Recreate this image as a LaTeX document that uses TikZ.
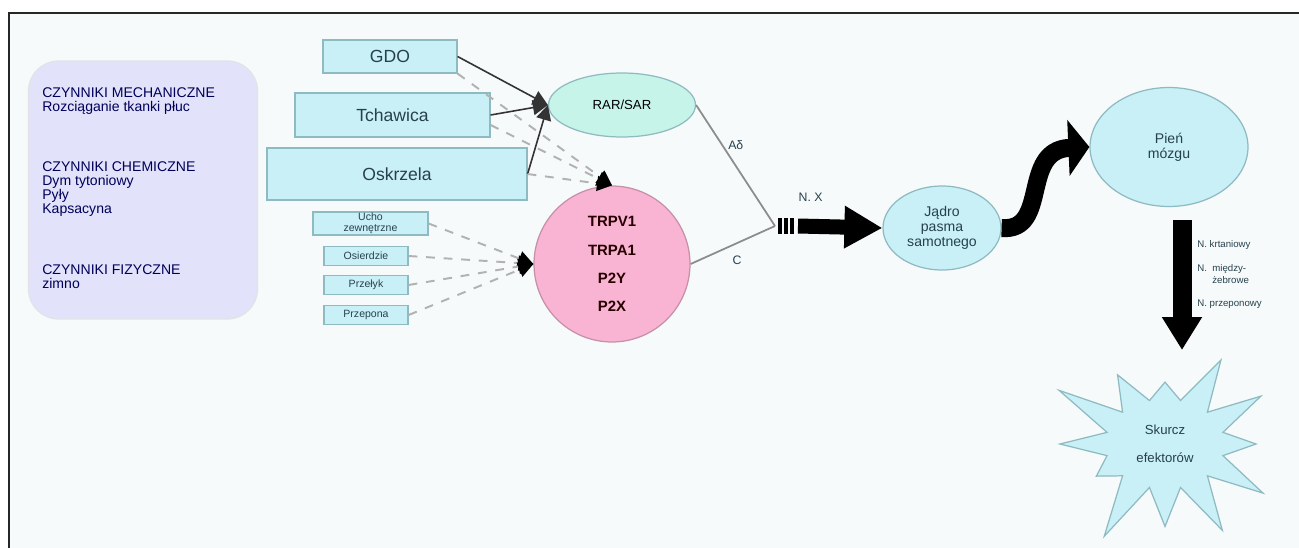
\documentclass[tikz,border=0pt]{standalone}
\usepackage{fontspec}
\setmainfont{Liberation Sans}
\usetikzlibrary{arrows.meta,shapes.geometric,shapes.symbols}
\definecolor{tlo}{HTML}{F6FAFA}
\definecolor{cyjan}{HTML}{C9F0F6}
\definecolor{mieta}{HTML}{C6F4E9}
\definecolor{roz}{HTML}{F8B4D2}
\definecolor{lawenda}{HTML}{E2E2FA}
\definecolor{ramka}{HTML}{8EBAC2}
\definecolor{tekst}{HTML}{27414C}
\begin{document}
\begin{tikzpicture}[x=0.02cm, y=-0.02cm,
	pole/.style={draw=ramka, fill=cyjan, line width=0.7pt, inner sep=0pt, text=tekst, font=\fontsize{10}{11}\selectfont},
	maly/.style={pole, font=\fontsize{6}{6.5}\selectfont, align=center},
	owal/.style={ellipse, draw=ramka, fill=cyjan, line width=0.7pt, inner sep=0pt, align=center, text=tekst},
	opis/.style={inner sep=0pt, text=tekst, font=\fontsize{7}{7}\selectfont},
	wejscie/.style={draw=black!80, line width=0.9pt, -{Triangle[length=0.3cm,width=0.3cm]}},
	kreski/.style={draw=black!30, line width=1.1pt, dash pattern=on 5pt off 5pt, -{Triangle[length=0.3cm,width=0.3cm,color=black]}},
	nerw/.style={draw=black!45, line width=1pt},
	gruba/.style={draw=black, line width=0.3cm, -{Triangle[length=0.76cm,width=0.8cm]}}]
	\useasboundingbox (0,0) rectangle (1299,548);
	% tlo i ramka
	\fill[tlo] (9,13) rectangle (1299,548);
	\draw[line width=1.2pt, black!85] (9,548) -- (9,13) -- (1299,13);

	% czynniki
	\node (czynniki) at (143,190) [draw=lawenda!70!black!30, fill=lawenda, line width=0.7pt, rounded corners=0.6cm, minimum width=4.58cm, minimum height=5.16cm] {};
	\node (mech) at (42,87) [anchor=north west, align=left, inner sep=0pt, text=black!65!blue, font=\fontsize{8}{8}\selectfont] {CZYNNIKI MECHANICZNE\\Rozciąganie tkanki płuc};
	\node (chem) at (42,161) [anchor=north west, align=left, inner sep=0pt, text=black!65!blue, font=\fontsize{8}{8}\selectfont] {CZYNNIKI CHEMICZNE\\Dym tytoniowy\\Pyły\\Kapsacyna};
	\node (fiz) at (42,264) [anchor=north west, align=left, inner sep=0pt, text=black!65!blue, font=\fontsize{8}{8}\selectfont] {CZYNNIKI FIZYCZNE\\zimno};

	% receptory
	\node (gdo) at (390,56.5) [pole, minimum width=2.68cm, minimum height=0.66cm] {GDO};
	\node (tchawica) at (392.5,115) [pole, minimum width=3.9cm, minimum height=0.88cm] {Tchawica};
	\node (oskrzela) at (397,174) [pole, minimum width=5.2cm, minimum height=1.04cm] {Oskrzela};
	\node (ucho) at (370.5,223.5) [maly, minimum width=2.3cm, minimum height=0.46cm] {Ucho\\zewnętrzne};
	\node (osierdzie) at (366,256) [maly, minimum width=1.68cm, minimum height=0.38cm] {Osierdzie};
	\node (przelyk) at (366,285) [maly, minimum width=1.68cm, minimum height=0.38cm] {Przełyk};
	\node (przepona) at (366,315) [maly, minimum width=1.68cm, minimum height=0.38cm] {Przepona};

	\node (rarsar) at (622,105) [owal, fill=mieta, minimum width=2.94cm, minimum height=1.28cm, font=\fontsize{7.5}{8}\selectfont, text=black] {RAR/SAR};
	\node (kanaly) at (612,264) [circle, draw=roz!80!black, fill=roz, line width=0.7pt, minimum size=3.12cm, inner sep=0pt, align=center, text=black!75!red!60!black, font=\bfseries\fontsize{8.5}{16}\selectfont] {TRPV1\\TRPA1\\P2Y\\P2X};

	\node (jadro) at (942,228) [owal, minimum width=2.36cm, minimum height=1.68cm, font=\fontsize{8}{8.5}\selectfont] {Jądro\\pasma\\samotnego};
	\node (pien) at (1169,147) [owal, minimum width=3.16cm, minimum height=2.38cm, font=\fontsize{8}{8.5}\selectfont] {Pień\\mózgu};
	\node (skurcz) at (1165,444) [starburst, starburst points=12, starburst point height=1.3cm, random starburst=23, draw=ramka, fill=cyjan, line width=0.7pt, minimum width=5.0cm, minimum height=4.4cm, inner sep=0pt, align=center, text=tekst, font=\fontsize{7.5}{16}\selectfont] {Skurcz\\efektorów};

	% wejscia
	\draw[wejscie] (gdo.east) -- (rarsar.west);
	\draw[wejscie] (tchawica.east) -- (rarsar.west);
	\draw[wejscie] (oskrzela.east) -- (rarsar.west);
	\draw[kreski] (gdo.south east) -- (kanaly.north);
	\draw[kreski] ([yshift=-0.2cm]tchawica.east) -- (kanaly.north);
	\draw[kreski] (oskrzela.east) -- (kanaly.north);
	\foreach \n in {ucho,osierdzie,przelyk,przepona}
		\draw[kreski] (\n.east) -- (kanaly.west);

	% wlokna
	\coordinate (junc) at (775,226);
	\draw[nerw] (rarsar.east) -- (junc) node[pos=0.33, right=3pt, opis] {Aδ};
	\draw[nerw] (kanaly.east) -- (junc) node[pos=0.55, below=7pt, opis] {C};
	\foreach \x in {778,784,790}
		\fill (\x,218) rectangle +(3.5,16);
	\coordinate (nx) at (798,226);
	\draw[gruba] (nx) -- (jadro.west) node[pos=0.15, above=0.35cm, opis] {N. X};

	% pien mozgu
	\draw[draw=black, line width=0.36cm, -{Triangle[length=0.42cm,width=1.1cm]}] (jadro.east) .. controls (1050,232) and (1020,150) .. (pien.west);
	\coordinate (dol) at (1182,220);
	\coordinate (grot) at (1182,350);
	\draw[draw=black, line width=0.38cm, -{Triangle[length=0.66cm,width=0.76cm]}] (dol) -- (grot);
	\node (krtan) at (1197,245) [anchor=west, opis, font=\fontsize{5.5}{6}\selectfont] {N. krtaniowy};
	\node (miedzy) at (1197,274) [anchor=west, opis, align=left, font=\fontsize{5.5}{6.5}\selectfont] {N.\ \ między-\\\hspace{0.3cm}żebrowe};
	\node (przep) at (1197,304) [anchor=west, opis, font=\fontsize{5.5}{6}\selectfont] {N. przeponowy};
\end{tikzpicture}
\end{document}
